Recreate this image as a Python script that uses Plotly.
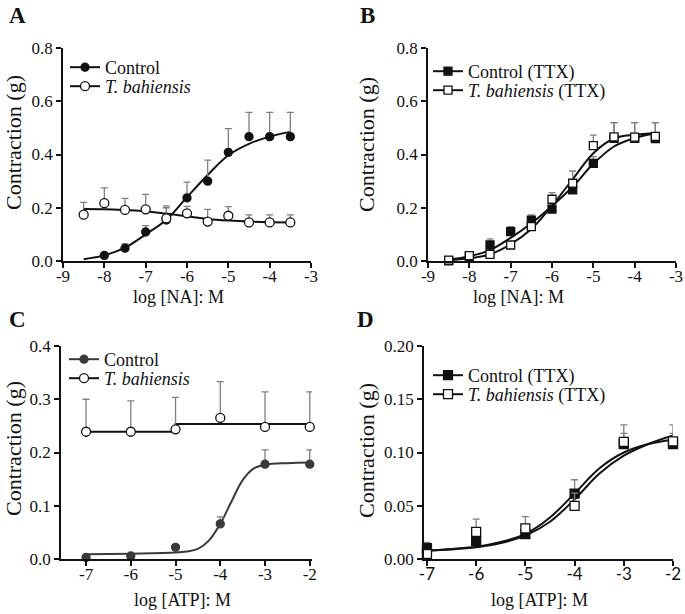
import plotly.graph_objects as go

W, H = 685, 614
SERIF = "Liberation Serif, Times New Roman, DejaVu Serif, serif"
SANS = "Lato, Open Sans, sans-serif"
INK = "#111111"
BAR = "#808080"

# ---- panel A: noradrenaline, intact preparation
a_x_ctrl = [-8, -7.5, -7, -6.5, -6, -5.5, -5, -4.5, -4, -3.5]
a_y_ctrl = [0.021, 0.048, 0.109, 0.154, 0.237, 0.300, 0.408, 0.467, 0.467, 0.467]
a_sem_ctrl = [0.0, 0.016, 0.024, 0.046, 0.059, 0.079, 0.089, 0.091, 0.091, 0.091]
a_x_tb = [-8.5, -8, -7.5, -7, -6.5, -6, -5.5, -5, -4.5, -4, -3.5]
a_y_tb = [0.174, 0.217, 0.192, 0.194, 0.160, 0.179, 0.148, 0.170, 0.145, 0.145, 0.145]
a_sem_tb = [0.046, 0.058, 0.043, 0.056, 0.047, 0.026, 0.046, 0.034, 0.028, 0.028, 0.028]
a_fit_x = [-8.5, -8, -7.5, -7, -6.5, -6, -5.5, -5, -4.5, -4, -3.5]
a_fit_ctrl = [0.007, 0.021, 0.050, 0.100, 0.155, 0.240, 0.323, 0.397, 0.440, 0.467, 0.485]
a_fit_tb = [0.195, 0.194, 0.191, 0.187, 0.178, 0.168, 0.158, 0.152, 0.148, 0.146, 0.145]

# ---- panel B: noradrenaline, TTX
b_x = [-8.5, -8, -7.5, -7, -6.5, -6, -5.5, -5, -4.5, -4, -3.5]
b_y_ctrl = [0.001, 0.014, 0.060, 0.110, 0.153, 0.195, 0.267, 0.367, 0.461, 0.461, 0.460]
b_sem_ctrl = [0.0, 0.005, 0.023, 0.019, 0.020, 0.015, 0.020, 0.025, 0.059, 0.059, 0.060]
b_y_tb = [0.003, 0.020, 0.025, 0.060, 0.129, 0.232, 0.292, 0.433, 0.466, 0.465, 0.468]
b_sem_tb = [0.0, 0.004, 0.004, 0.008, 0.010, 0.025, 0.046, 0.040, 0.054, 0.055, 0.052]
b_fit_ctrl = [0.005, 0.018, 0.041, 0.087, 0.142, 0.207, 0.279, 0.365, 0.430, 0.462, 0.480]
b_fit_tb = [0.003, 0.010, 0.025, 0.063, 0.120, 0.208, 0.307, 0.405, 0.460, 0.474, 0.480]

# ---- panel C: ATP, intact preparation
c_x = [-7, -6, -5, -4, -3, -2]
c_y_ctrl = [0.003, 0.0056, 0.022, 0.066, 0.178, 0.178]
c_sem_ctrl = [0.0, 0.0, 0.003, 0.013, 0.027, 0.027]
c_y_tb = [0.239, 0.239, 0.2435, 0.265, 0.248, 0.248]
c_sem_tb = [0.061, 0.058, 0.060, 0.068, 0.066, 0.066]
c_fit_x = [-7, -6, -5, -4.75, -4.5, -4.25, -4, -3.75, -3.5, -3.25, -3, -2.5, -2]
c_fit_ctrl = [0.009, 0.010, 0.012, 0.014, 0.019, 0.035, 0.066, 0.108, 0.148, 0.170, 0.177, 0.180, 0.181]
c_fit_tb_x = [-7, -5, -5, -2]
c_fit_tb = [0.239, 0.239, 0.2535, 0.2535]

# ---- panel D: ATP, TTX
d_x = [-7, -6, -5, -4, -3, -2]
d_y_ctrl = [0.0103, 0.017, 0.0234, 0.0614, 0.108, 0.108]
d_sem_ctrl = [0.0053, 0.003, 0.003, 0.013, 0.010, 0.010]
d_y_tb = [0.0047, 0.0255, 0.0287, 0.0498, 0.110, 0.1105]
d_sem_tb = [0.002, 0.012, 0.011, 0.012, 0.016, 0.0155]
d_fit_x = [-7, -6.5, -6, -5.5, -5, -4.5, -4, -3.5, -3, -2.5, -2]
d_fit_ctrl = [0.008, 0.0095, 0.0115, 0.016, 0.0235, 0.039, 0.0615, 0.085, 0.100, 0.108, 0.112]
d_fit_tb = [0.008, 0.009, 0.011, 0.015, 0.022, 0.035, 0.056, 0.080, 0.097, 0.108, 0.116]

na_ticks = [-9, -8, -7, -6, -5, -4, -3]
atp_ticks = [-7, -6, -5, -4, -3, -2]


def px(x, y):
    return x / W, 1 - y / H


fig = go.Figure()


def add_series(n, x, y, sem, fit_x, fit_y, symbol, fill, name, legend, color=INK,
               size=8, shape="spline"):
    xa = "x" if n == 1 else f"x{n}"
    ya = "y" if n == 1 else f"y{n}"
    fig.add_trace(go.Scatter(x=fit_x, y=fit_y, mode="lines", xaxis=xa, yaxis=ya,
                             line=dict(color=color, width=2, shape=shape),
                             showlegend=False, hoverinfo="skip"))
    fig.add_trace(go.Scatter(x=x, y=y, mode="markers", xaxis=xa, yaxis=ya,
                             marker=dict(symbol=symbol, size=size, color=fill,
                                         line=dict(color=color, width=1.3)),
                             error_y=dict(type="data", symmetric=False, array=sem,
                                          arrayminus=[0] * len(sem), color=BAR,
                                          thickness=1.3, width=3.5),
                             cliponaxis=False, showlegend=False))
    # legend entry: line with marker
    fig.add_trace(go.Scatter(x=[None], y=[None], mode="lines+markers", xaxis=xa, yaxis=ya,
                             line=dict(color=color, width=2),
                             marker=dict(symbol=symbol, size=size, color=fill,
                                         line=dict(color=color, width=1.3)),
                             name=name, legend=legend, showlegend=True))


add_series(1, a_x_ctrl, a_y_ctrl, a_sem_ctrl, a_fit_x, a_fit_ctrl, "circle", INK, "Control", "legend")
add_series(1, a_x_tb, a_y_tb, a_sem_tb, a_fit_x, a_fit_tb, "circle", "white", "<i>T. bahiensis</i>", "legend2", size=9)
add_series(2, b_x, b_y_ctrl, b_sem_ctrl, b_x, b_fit_ctrl, "square", INK, "Control (TTX)", "legend3")
add_series(2, b_x, b_y_tb, b_sem_tb, b_x, b_fit_tb, "square", "white", "<i>T. bahiensis</i> (TTX)", "legend4")
add_series(3, c_x, c_y_ctrl, c_sem_ctrl, c_fit_x, c_fit_ctrl, "circle", "#3a3a3a", "Control", "legend5", color="#3a3a3a")
add_series(3, c_x, c_y_tb, c_sem_tb, c_fit_tb_x, c_fit_tb, "circle", "white", "<i>T. bahiensis</i>", "legend6", size=9, shape="linear")
add_series(4, d_x, d_y_ctrl, d_sem_ctrl, d_fit_x, d_fit_ctrl, "square", INK, "Control (TTX)", "legend7", size=9)
add_series(4, d_x, d_y_tb, d_sem_tb, d_fit_x, d_fit_tb, "square", "white", "<i>T. bahiensis</i> (TTX)", "legend8", size=9)

axis_common = dict(showline=True, linecolor=INK, linewidth=1.5, ticks="outside",
                   ticklen=5, tickwidth=1.5, tickcolor=INK, showgrid=False,
                   zeroline=False, automargin=False,
                   tickfont=dict(family=SERIF, size=17, color=INK))


def xaxis(dom, rng, ticks, anchor, font=SERIF):
    d = dict(axis_common, domain=dom, range=rng, tickvals=ticks,
             ticktext=[str(t) for t in ticks], anchor=anchor, ticklabelstandoff=-6)
    d["tickfont"] = dict(family=font, size=17, color=INK)
    return d


def yaxis(dom, rng, dtick, fmt, anchor):
    return dict(axis_common, domain=dom, range=rng, dtick=dtick, tickformat=fmt,
                anchor=anchor)


top_dom = [1 - 261 / H, 1 - 48 / H]
bot_dom = [1 - 559 / H, 1 - 346 / H]

fig.update_layout(
    width=W, height=H, margin=dict(l=0, r=0, t=0, b=0, autoexpand=False),
    paper_bgcolor="white", plot_bgcolor="white",
    xaxis=xaxis([63 / W, 311 / W], [-9, -3], na_ticks, "y"),
    yaxis=yaxis(top_dom, [0, 0.8], 0.2, ".1f", "x"),
    xaxis2=xaxis([428 / W, 676 / W], [-9, -3], na_ticks, "y2"),
    yaxis2=yaxis(top_dom, [0, 0.8], 0.2, ".1f", "x2"),
    xaxis3=xaxis([61 / W, 312 / W], [-7.56, -1.95], atp_ticks, "y3"),
    yaxis3=yaxis(bot_dom, [0, 0.4], 0.1, ".1f", "x3"),
    xaxis4=xaxis([424 / W, 673 / W], [-7.06, -2], atp_ticks, "y4", font=SANS),
    yaxis4=yaxis(bot_dom, [0, 0.2], 0.05, ".2f", "x4"),
)

# one legend per entry so each row sits where the reference has it
leg_common = dict(font=dict(family=SERIF, size=18, color=INK), bgcolor="rgba(0,0,0,0)",
                  itemwidth=30, tracegroupgap=0, xanchor="left", yanchor="top",
                  itemclick=False, itemdoubleclick=False)
leg_pos = {"legend": (65, 49), "legend2": (65, 68), "legend3": (428, 53), "legend4": (428, 72),
           "legend5": (64, 341), "legend6": (64, 360), "legend7": (428, 357), "legend8": (428, 376)}
for key, (lx, ly) in leg_pos.items():
    x0, y0 = px(lx, ly)
    fig.update_layout({key: dict(leg_common, x=x0, y=y0)})

annotations = []
for letter, (lx, ly) in {"A": (17, 15), "B": (367, 15), "C": (17, 319), "D": (366, 319)}.items():
    x0, y0 = px(lx, ly)
    annotations.append(dict(text=f"<b>{letter}</b>", x=x0, y=y0, xref="paper", yref="paper",
                            xanchor="center", yanchor="middle", showarrow=False,
                            font=dict(family=SERIF, size=23, color=INK)))

for (tx, ty) in [(13, 143), (366, 144), (13, 449), (366, 450)]:
    x0, y0 = px(tx, ty)
    annotations.append(dict(text="Contraction (g)", x=x0, y=y0, xref="paper", yref="paper",
                            textangle=-90, xanchor="center", yanchor="middle", showarrow=False,
                            font=dict(family=SERIF, size=22, color=INK)))

for text, (tx, ty) in [("log [NA]: M", (178, 297)), ("log [NA]: M", (518, 297)),
                       ("log [ATP]: M", (182, 600)), ("log [ATP]: M", (539, 600))]:
    x0, y0 = px(tx, ty)
    annotations.append(dict(text=text, x=x0, y=y0, xref="paper", yref="paper",
                            xanchor="center", yanchor="middle", showarrow=False,
                            font=dict(family=SERIF, size=18, color=INK)))

fig.update_layout(annotations=annotations)

fig.write_html("out.html", config={"displayModeBar": False},
               post_script="document.body.style.margin='0';")
